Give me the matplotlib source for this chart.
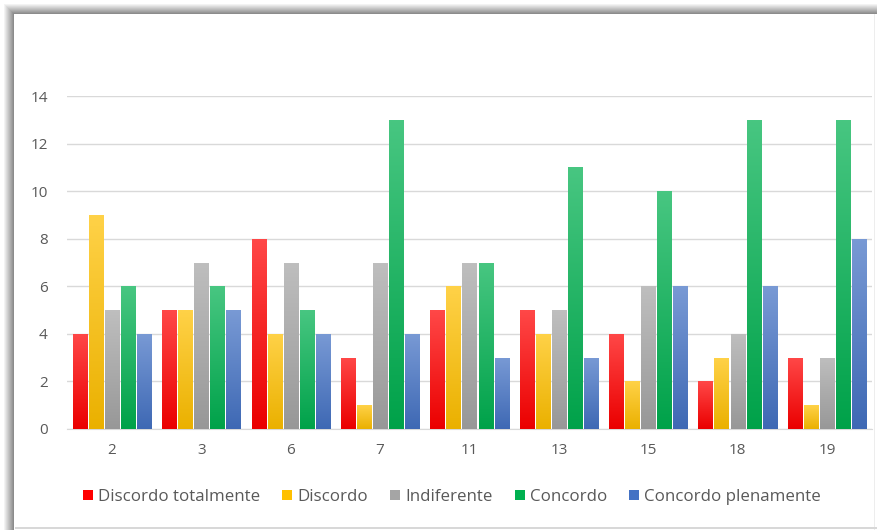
import numpy as np
import matplotlib
matplotlib.use("Agg")
import matplotlib.pyplot as plt
from matplotlib.colors import to_rgb

plt.rcParams['font.family'] = ['Open Sans', 'DejaVu Sans']

categories = ["2", "3", "6", "7", "11", "13", "15", "18", "19"]
series_names = ["Discordo totalmente", "Discordo", "Indiferente", "Concordo", "Concordo plenamente"]
discordo_totalmente = [4, 5, 8, 3, 5, 5, 4, 2, 3]
discordo = [9, 5, 4, 1, 6, 4, 2, 3, 1]
indiferente = [5, 7, 7, 7, 7, 5, 6, 4, 3]
concordo = [6, 6, 5, 13, 7, 11, 10, 13, 13]
concordo_plenamente = [4, 5, 4, 4, 3, 3, 6, 6, 8]
series_values = [discordo_totalmente, discordo, indiferente, concordo, concordo_plenamente]
colors = ["#FF0000", "#FFC000", "#A5A5A5", "#00B050", "#4472C4"]
yticks = [0, 2, 4, 6, 8, 10, 12, 14]

W, H = 877, 530
fig = plt.figure(figsize=(W / 100, H / 100), dpi=100)
fig.patch.set_facecolor("white")

# chart frame: soft grey shadow along the left and top edges
bg = np.ones((H, W, 3))
ramp = np.linspace(1.0, 0.55, 11)
for k, v in enumerate(ramp):
    col = 3 + k
    bg[3 + k:, col, :] = np.minimum(bg[3 + k:, col, :], v)
    bg[3 + k, col:, :] = np.minimum(bg[3 + k, col:, :], v)
bg[527:529, 15:, :] = np.minimum(bg[527:529, 15:, :], 0.85)
bg[14:, 874, :] = np.minimum(bg[14:, 874, :], 0.93)
fig.figimage(bg, xo=0, yo=0, origin="upper", zorder=-5)

ax = fig.add_axes([67.3 / W, 101 / H, 804.4 / W, 333 / H])
ax.set_facecolor("none")

n = len(series_values)
x = np.arange(len(categories))
step = 0.18
width = 0.158

def lighten(c, f):
    r = np.array(to_rgb(c))
    return r + (1 - r) * f

grad = np.linspace(0, 1, 64)[:, None]
for i, (name, vals, col) in enumerate(zip(series_names, series_values, colors)):
    offs = (i - (n - 1) / 2) * step
    bars = ax.bar(x + offs, vals, width=width, color=col, label=name, zorder=2)
    top = lighten(col, 0.28)
    bot = np.array(to_rgb(col)) * 0.92
    img = bot[None, None, :] * (1 - grad[:, :, None]) + top[None, None, :] * grad[:, :, None]
    for b in bars:
        h = b.get_height()
        if h <= 0:
            continue
        x0 = b.get_x()
        im = ax.imshow(img, extent=(x0, x0 + b.get_width(), 0, h), origin="lower",
                       aspect="auto", zorder=3, interpolation="bilinear")
        im.set_clip_path(b)

ax.set_xlim(-0.5, len(categories) - 0.5)
ax.set_ylim(0, 14)
ax.set_yticks(yticks)
ax.set_xticks(x)
ax.set_xticklabels(categories)
ax.grid(axis="y", color="#D9D9D9", lw=1.0, zorder=0)
ax.set_axisbelow(True)
for s in ["top", "right", "left"]:
    ax.spines[s].set_visible(False)
ax.spines["bottom"].set_color("#D9D9D9")
ax.tick_params(axis="both", length=0, colors="#595959", labelsize=11)
ax.tick_params(axis="x", pad=10)
ax.tick_params(axis="y", pad=14)

handles, labels = ax.get_legend_handles_labels()
leg = fig.legend(handles, labels, loc="center", bbox_to_anchor=(452 / W, 1 - 497 / H),
                 ncol=5, frameon=False, fontsize=12.2, handlelength=0.6, handleheight=0.6,
                 handletextpad=0.3, columnspacing=1.3, labelcolor="#595959")

fig.savefig("out.png", dpi=100, facecolor="white")
